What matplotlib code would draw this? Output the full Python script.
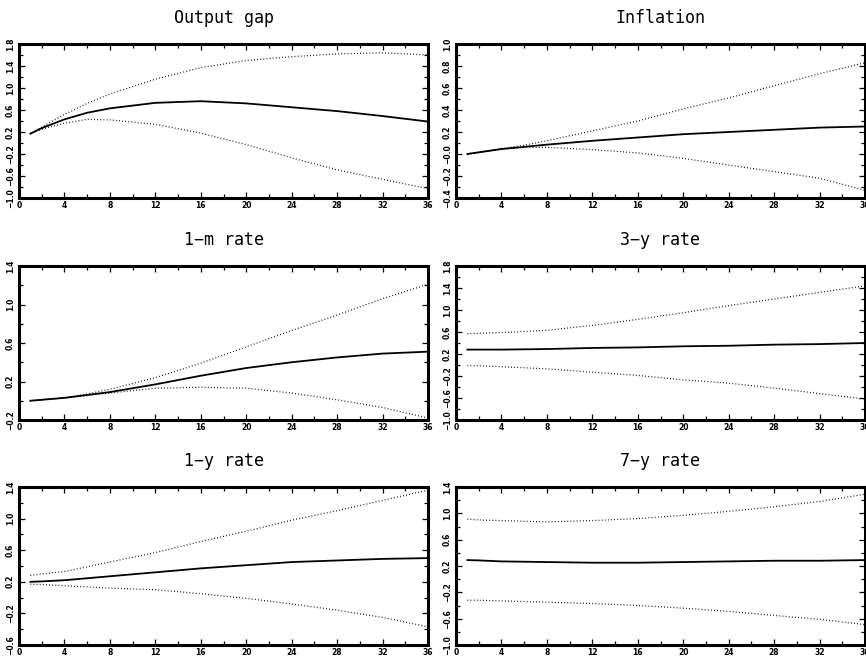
import matplotlib
matplotlib.use("Agg")
import matplotlib.pyplot as plt
from matplotlib.ticker import MultipleLocator, FixedLocator

# Horizon (quarters) at which the responses are tabulated
horizon = [1, 2, 4, 6, 8, 12, 16, 20, 24, 28, 32, 36]

# Output gap: median response and bands
gap_mid = [0.17, 0.27, 0.43, 0.55, 0.63, 0.73, 0.76, 0.72, 0.65, 0.58, 0.49, 0.39]
gap_hi = [0.17, 0.29, 0.52, 0.72, 0.89, 1.16, 1.37, 1.50, 1.57, 1.62, 1.64, 1.60]
gap_lo = [0.17, 0.25, 0.36, 0.43, 0.42, 0.34, 0.18, -0.03, -0.27, -0.49, -0.66, -0.83]

# Inflation
inf_mid = [0.00, 0.015, 0.045, 0.065, 0.085, 0.12, 0.15, 0.18, 0.20, 0.22, 0.24, 0.25]
inf_hi = [0.00, 0.015, 0.05, 0.08, 0.12, 0.21, 0.30, 0.41, 0.51, 0.62, 0.73, 0.83]
inf_lo = [0.00, 0.015, 0.045, 0.06, 0.06, 0.04, 0.01, -0.04, -0.10, -0.16, -0.22, -0.33]

# 1-month rate
r1m_mid = [0.00, 0.01, 0.03, 0.06, 0.09, 0.17, 0.26, 0.34, 0.40, 0.45, 0.49, 0.51]
r1m_hi = [0.00, 0.01, 0.03, 0.07, 0.12, 0.24, 0.39, 0.56, 0.73, 0.89, 1.06, 1.21]
r1m_lo = [0.00, 0.01, 0.03, 0.055, 0.08, 0.13, 0.14, 0.13, 0.08, 0.01, -0.07, -0.18]

# 3-year rate
r3y_mid = [0.28, 0.28, 0.28, 0.285, 0.29, 0.31, 0.32, 0.34, 0.35, 0.37, 0.38, 0.40]
r3y_hi = [0.57, 0.575, 0.59, 0.61, 0.63, 0.72, 0.83, 0.95, 1.08, 1.20, 1.32, 1.44]
r3y_lo = [-0.01, -0.015, -0.03, -0.05, -0.07, -0.13, -0.19, -0.27, -0.33, -0.42, -0.52, -0.62]

# 1-year rate
r1y_mid = [0.20, 0.205, 0.22, 0.245, 0.27, 0.32, 0.37, 0.41, 0.45, 0.47, 0.49, 0.50]
r1y_hi = [0.28, 0.30, 0.33, 0.39, 0.45, 0.57, 0.71, 0.84, 0.98, 1.10, 1.23, 1.36]
r1y_lo = [0.17, 0.165, 0.15, 0.135, 0.12, 0.10, 0.05, -0.01, -0.08, -0.16, -0.25, -0.37]

# 7-year rate
r7y_mid = [0.29, 0.285, 0.27, 0.265, 0.26, 0.25, 0.25, 0.26, 0.27, 0.28, 0.28, 0.29]
r7y_hi = [0.91, 0.90, 0.89, 0.88, 0.87, 0.89, 0.92, 0.97, 1.03, 1.10, 1.18, 1.29]
r7y_lo = [-0.32, -0.32, -0.33, -0.34, -0.35, -0.37, -0.40, -0.44, -0.49, -0.55, -0.61, -0.69]

titles = ["Output gap", "Inflation", "1\u2212m rate", "3\u2212y rate", "1\u2212y rate", "7\u2212y rate"]
series = [
    (gap_mid, gap_hi, gap_lo),
    (inf_mid, inf_hi, inf_lo),
    (r1m_mid, r1m_hi, r1m_lo),
    (r3y_mid, r3y_hi, r3y_lo),
    (r1y_mid, r1y_hi, r1y_lo),
    (r7y_mid, r7y_hi, r7y_lo),
]
# y-axis limits and major tick step for each panel
ylims = [(-1.0, 1.8), (-0.4, 1.0), (-0.2, 1.4), (-1.0, 1.8), (-0.6, 1.4), (-1.0, 1.4)]
ysteps = [0.4, 0.2, 0.4, 0.4, 0.4, 0.4]
x_ticks = [0, 4, 8, 12, 16, 20, 24, 28, 32, 36]

W, H = 866, 657
fig = plt.figure(figsize=(W / 100, H / 100), dpi=100)

col_lr = [(19, 428), (456, 865)]
row_tb = [(44, 198), (266, 420), (487, 645)]

tick_font = dict(family="DejaVu Sans", size=5.5, weight="bold")

for i, (title, (mid, hi, lo), (y0, y1), ystep) in enumerate(zip(titles, series, ylims, ysteps)):
    r, c = divmod(i, 2)
    l, rr = col_lr[c]
    t, b = row_tb[r]
    ax = fig.add_axes([l / W, 1 - b / H, (rr - l) / W, (b - t) / H])
    ax.plot(horizon, mid, color="black", lw=1.3, solid_joinstyle="round")
    ax.plot(horizon, hi, color="black", lw=0.9, linestyle=(0, (0.7, 1.8)))
    ax.plot(horizon, lo, color="black", lw=0.9, linestyle=(0, (0.7, 1.8)))
    ax.set_xlim(0, 36)
    ax.set_ylim(y0, y1)
    ax.xaxis.set_major_locator(FixedLocator(x_ticks))
    ax.xaxis.set_minor_locator(MultipleLocator(2))
    n = int(round((y1 - y0) / ystep))
    yt = [round(y0 + k * ystep, 2) for k in range(n + 1)]
    ax.yaxis.set_major_locator(FixedLocator(yt))
    ax.yaxis.set_minor_locator(MultipleLocator(ystep / 2))
    ax.set_xticklabels([str(v) for v in x_ticks], fontdict=tick_font)
    ylabels = []
    for v in yt:
        s = f"{abs(v):.1f}"
        if v < 0 or (abs(v) < 1e-9 and i == 1):
            s = "\u2212" + s
        ylabels.append(s)
    ax.set_yticklabels(ylabels, fontdict=tick_font, rotation=90, va="center")
    ax.tick_params(which="both", direction="in", top=True, right=True, width=0.9)
    ax.tick_params(which="major", length=4)
    ax.tick_params(which="minor", length=3)
    ax.tick_params(axis="x", which="major", pad=2)
    ax.tick_params(axis="y", which="major", pad=3)
    for sp in ax.spines.values():
        sp.set_linewidth(2.2)
    ax.set_title(title, fontsize=12, family="DejaVu Sans Mono", pad=15)

fig.savefig("out.png", dpi=100)
